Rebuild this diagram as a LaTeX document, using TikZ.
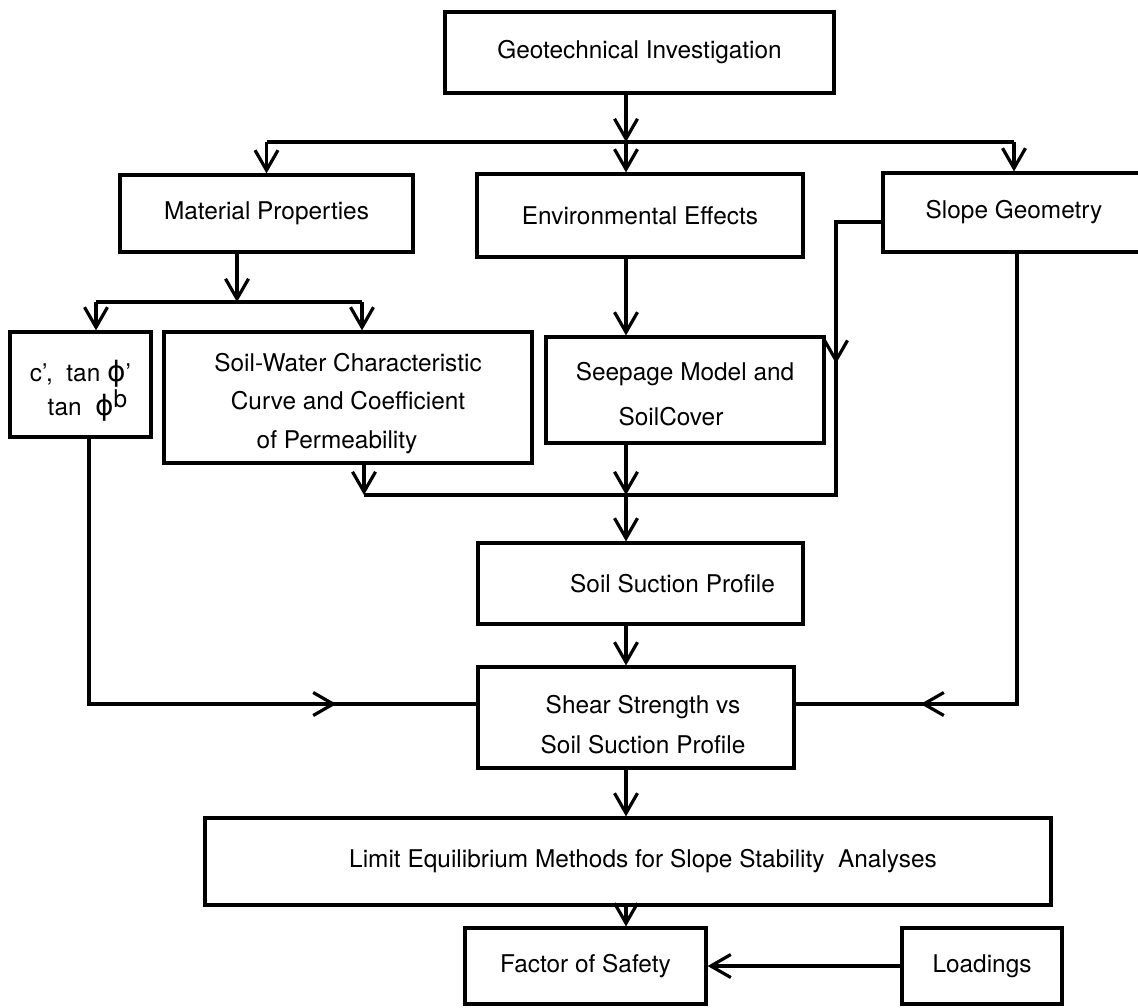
\documentclass[tikz,border=0pt]{standalone}
\usepackage{fontspec}
\setmainfont{TeX Gyre Heros}
\newfontfamily\phifont{DejaVu Sans}
\usetikzlibrary{arrows.meta, decorations.markings}

\newcommand{\boxfont}[1]{\fontsize{12.2}{#1}\selectfont}
\newcommand{\bigphi}{{\phifont\fontsize{14}{14}\selectfont ϕ}}

\begin{document}
\begin{tikzpicture}[x=0.5pt, y=-0.5pt,
    box/.style={draw, line width=1.6pt, inner sep=0pt, align=center, font=\boxfont{14.6}},
    dims/.style 2 args={minimum width=#1*0.5pt, minimum height=#2*0.5pt},
    conn/.style={line width=1.6pt},
    arr/.style={conn, -{Straight Barb[length=10pt, width=11.5pt]}},
    midtip/.style={postaction={decorate}, decoration={markings,
        mark=at position #1 with {\arrow{Straight Barb[length=10pt, width=11.5pt]}}}}]

    \useasboundingbox (0,0) rectangle (1138,1007);

    % Coordinates
    \coordinate (hub) at (626,142);
    \coordinate (matjoin) at (237,302);
    \coordinate (cphiin) at (96,302);
    \coordinate (swccin) at (362,302);
    \coordinate (swccout) at (364,495);
    \coordinate (join) at (626,495);
    \coordinate (slopeout) at (836,222);
    \coordinate (leftcorner) at (89,704);
    \coordinate (rightcorner) at (1017,704);

    % Boxes
    \node [box, dims={389}{81}] (geo) at (639.5,52.5) {Geotechnical Investigation};
    \node [box, dims={293}{77}] (matprop) at (266.5,213.5) {Material Properties};
    \node [box, dims={326}{83}] (enveff) at (640,215.5) {Environmental Effects};
    \node [box, dims={262}{79}] (slopegeo) at (1014,212.5) {Slope Geometry};

    \node [box, dims={141}{105}, font=\boxfont{15}] (cphi) at (80.5,384.5)
        {\rule{0pt}{17pt}c',\ \ tan \bigphi'\\ \hspace*{7pt}tan\ \ \bigphi\raisebox{4pt}{b}};
    \node [box, dims={368}{131}, font=\boxfont{19.3}] (swcc) at (348,397.5)
        {\rule{0pt}{15pt}Soil-Water Characteristic\\ Curve and Coefficient\\ of Permeability\hspace*{11pt}};
    \node [box, dims={278}{106}, font=\boxfont{22.5}] (seepage) at (685,390)
        {\rule{0pt}{13pt}Seepage Model and\\ SoilCover\hspace*{14pt}};

    \node [box, dims={325}{81}] (suction) at (640.5,583.5) {\hspace*{32pt}Soil Suction Profile};
    \node [box, dims={316}{101}, font=\boxfont{20}] (shear) at (636,717.5)
        {\rule{0pt}{16pt}\hspace*{7pt}Shear Strength vs\\ \hspace*{7pt}Soil Suction Profile};
    \node [box, dims={846}{87}] (limit) at (628,861.5)
        {\hspace*{15pt}Limit Equilibrium Methods for Slope Stability\ \ Analyses};
    \node [box, dims={241}{76}] (fos) at (585.5,966) {Factor of Safety};
    \node [box, dims={160}{76}] (loads) at (982,966) {Loadings};

    % Top branch
    \draw [arr] (geo.south -| hub) -- (hub);
    \draw [conn] (matprop.north |- hub) -- (slopegeo.north |- hub);
    \draw [arr] (matprop.north |- hub) -- (matprop.north);
    \draw [arr] (hub) -- (enveff.north -| hub);
    \draw [arr] (slopegeo.north |- hub) -- (slopegeo.north);

    % Material properties branch
    \draw [arr] (matprop.south -| matjoin) -- (matjoin);
    \draw [conn] (cphiin) -- (swccin);
    \draw [arr] (cphiin) -- (cphiin |- cphi.north);
    \draw [arr] (swccin) -- (swccin |- swcc.north);

    % Seepage and suction
    \draw [arr] (enveff.south -| hub) -- (seepage.north -| hub);
    \draw [arr] (swcc.south -| swccout) -- (swccout);
    \draw [conn] (swccout) -- (join);
    \draw [arr] (seepage.south -| join) -- (join);
    \draw [conn, midtip=93.5pt] (slopegeo.west |- slopeout) -- (slopeout) -- (slopeout |- join) -- (join);
    \draw [arr] (join) -- (suction.north -| join);

    % Shear strength
    \draw [arr] (suction.south -| join) -- (shear.north -| join);
    \draw [conn, midtip=-70pt] (cphi.south -| leftcorner) -- (leftcorner) -- (leftcorner -| shear.west);
    \draw [conn, midtip=-62.5pt] (slopegeo.south -| rightcorner) -- (rightcorner) -- (rightcorner -| shear.east);

    % Stability
    \draw [arr] (shear.south -| join) -- (limit.north -| join);
    \draw [arr] (limit.south -| join) -- (fos.north -| join);
    \draw [arr] (loads.west) -- (fos.east);

\end{tikzpicture}
\end{document}
